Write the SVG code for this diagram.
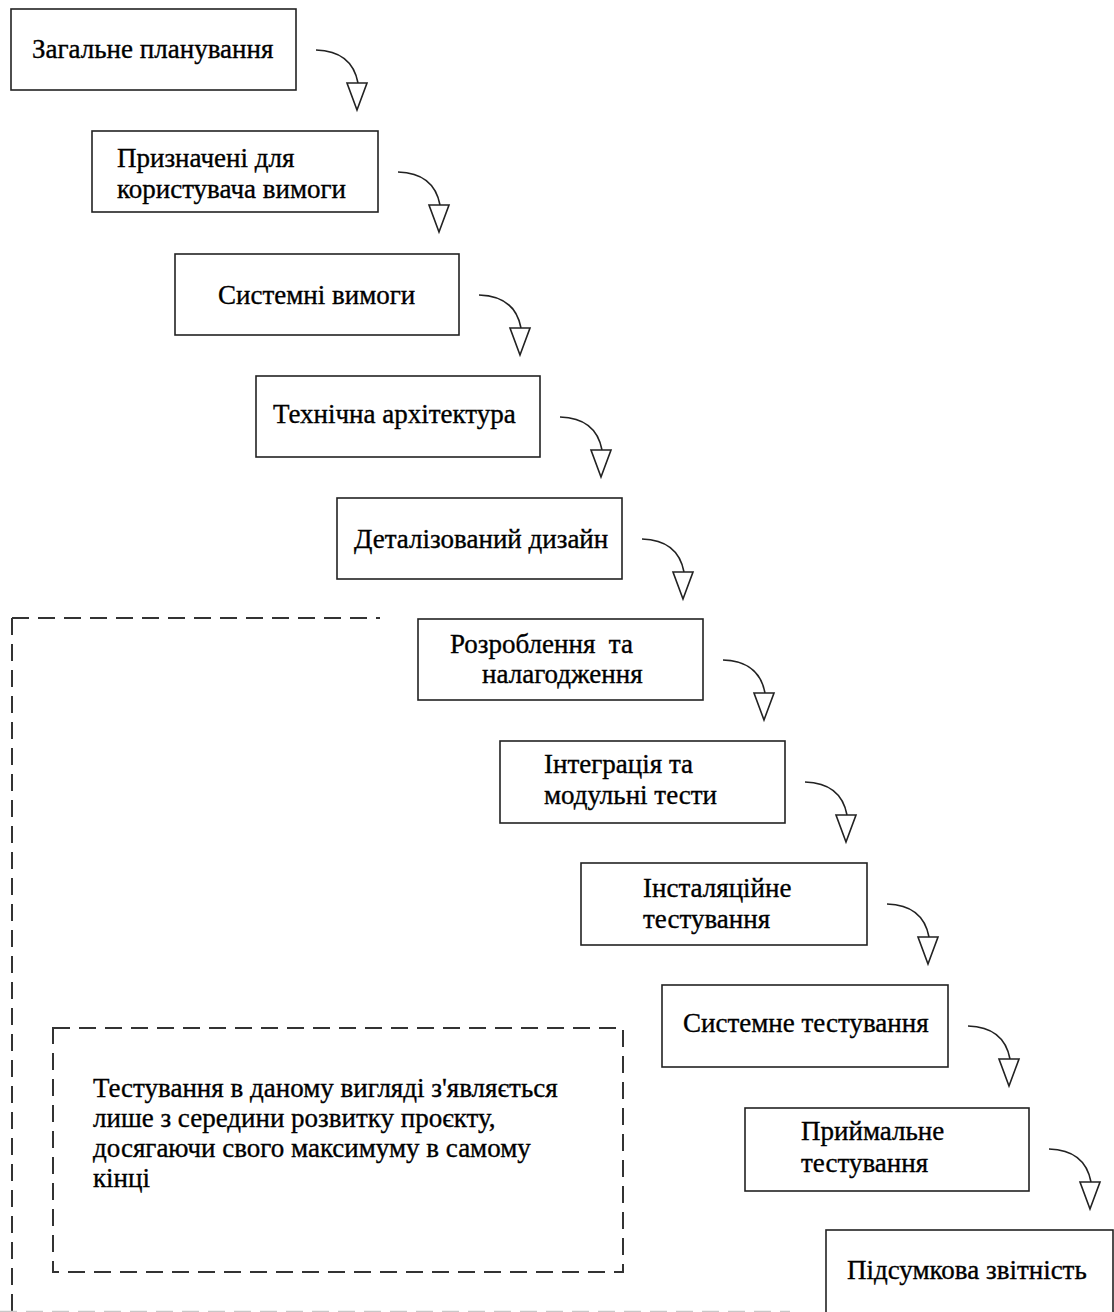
<svg xmlns="http://www.w3.org/2000/svg" width="1114" height="1312" viewBox="0 0 1114 1312">
  <style>
    .box { fill: #fff; stroke: #222; stroke-width: 1.6; }
    .lbl { font-family: 'Liberation Serif', 'Times New Roman', serif; font-size: 27px; fill: #000; stroke: #000; stroke-width: 0.35; }
    .dash { fill: none; stroke: #333; stroke-width: 2; stroke-dasharray: 17 9; }
    .curve { fill: none; stroke: #222; stroke-width: 1.6; }
    .head { fill: #fff; stroke: #222; stroke-width: 1.6; stroke-linejoin: miter; }
  </style>
  <defs>
    <!-- curved connector with hollow triangular head; origin = top-right corner of source box -->
    <g id="flow">
      <path class="curve" d="M20 41 Q56 42 62 74"/>
      <polygon class="head" points="51,74 71,74 61,101"/>
    </g>
  </defs>

  <rect width="1114" height="1312" fill="#fff"/>

  <!-- testing region outline -->
  <g id="testing-zone">
    <path class="dash" d="M12 618 H380"/>
    <path class="dash" d="M12 618 V1312"/>
    <path d="M0 1311.5 H790" fill="none" stroke="#c8c8c8" stroke-width="1.5" stroke-dasharray="17 9"/>
  </g>

  <!-- note -->
  <g id="note">
    <rect class="dash" x="53" y="1028" width="570" height="244"/>
    <text class="lbl" x="93" y="1097">Тестування в даному вигляді з'являється</text>
    <text class="lbl" x="93" y="1127">лише з середини розвитку проєкту,</text>
    <text class="lbl" x="93" y="1157">досягаючи свого максимуму в самому</text>
    <text class="lbl" x="93" y="1187">кінці</text>
  </g>

  <g id="n1">
    <rect class="box" x="11" y="9" width="285" height="81"/>
    <text class="lbl" x="32" y="58">Загальне планування</text>
  </g>
  <g id="n2">
    <rect class="box" x="92" y="131" width="286" height="81"/>
    <text class="lbl" x="117" y="167">Призначені для</text>
    <text class="lbl" x="117" y="198">користувача вимоги</text>
  </g>
  <g id="n3">
    <rect class="box" x="175" y="254" width="284" height="81"/>
    <text class="lbl" x="218" y="304">Системні вимоги</text>
  </g>
  <g id="n4">
    <rect class="box" x="256" y="376" width="284" height="81"/>
    <text class="lbl" x="273" y="423">Технічна архітектура</text>
  </g>
  <g id="n5">
    <rect class="box" x="337" y="498" width="285" height="81"/>
    <text class="lbl" x="354" y="548">Деталізований дизайн</text>
  </g>
  <g id="n6">
    <rect class="box" x="418" y="619" width="285" height="81"/>
    <text class="lbl" x="450" y="653" xml:space="preserve">Розроблення  та</text>
    <text class="lbl" x="482" y="683">налагодження</text>
  </g>
  <g id="n7">
    <rect class="box" x="500" y="741" width="285" height="82"/>
    <text class="lbl" x="544" y="773">Інтеграція та</text>
    <text class="lbl" x="544" y="804">модульні тести</text>
  </g>
  <g id="n8">
    <rect class="box" x="581" y="863" width="286" height="82"/>
    <text class="lbl" x="643" y="897">Інсталяційне</text>
    <text class="lbl" x="643" y="928">тестування</text>
  </g>
  <g id="n9">
    <rect class="box" x="662" y="985" width="286" height="82"/>
    <text class="lbl" x="683" y="1032">Системне тестування</text>
  </g>
  <g id="n10">
    <rect class="box" x="745" y="1108" width="284" height="83"/>
    <text class="lbl" x="801" y="1140">Приймальне</text>
    <text class="lbl" x="801" y="1172">тестування</text>
  </g>
  <g id="n11">
    <rect class="box" x="826" y="1230" width="287" height="100"/>
    <text class="lbl" x="847" y="1279">Підсумкова звітність</text>
  </g>

  <!-- connectors between consecutive stages -->
  <g id="connectors">
    <use href="#flow" x="296" y="9"/>
    <use href="#flow" x="378" y="131"/>
    <use href="#flow" x="459" y="254"/>
    <use href="#flow" x="540" y="376"/>
    <use href="#flow" x="622" y="498"/>
    <use href="#flow" x="703" y="619"/>
    <use href="#flow" x="785" y="741"/>
    <use href="#flow" x="867" y="863"/>
    <use href="#flow" x="948" y="985"/>
    <use href="#flow" x="1029" y="1108"/>
  </g>
</svg>
